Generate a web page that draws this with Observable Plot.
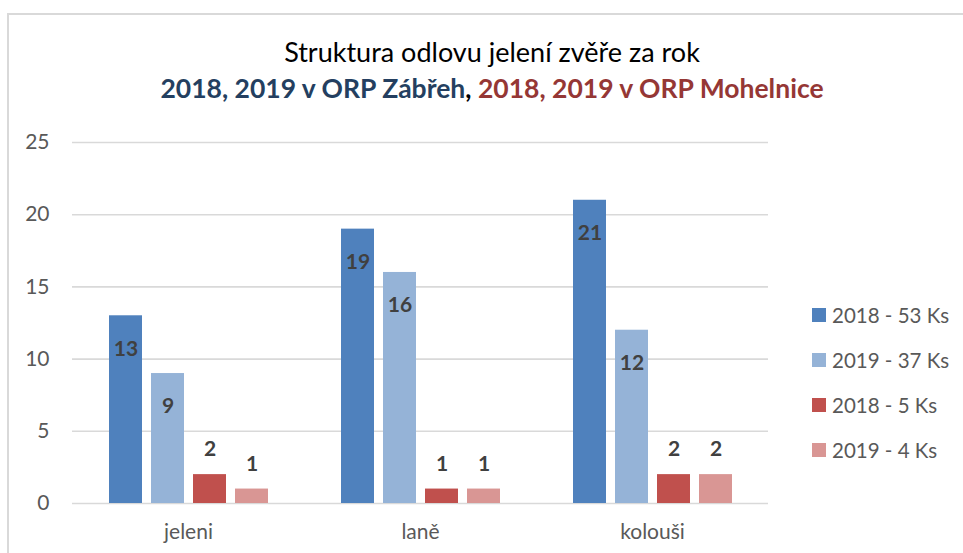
<!DOCTYPE html>
<html>
<head>
<meta charset="utf-8">
<script src="https://cdn.jsdelivr.net/npm/d3@7"></script>
<script src="https://cdn.jsdelivr.net/npm/@observablehq/plot@0.6"></script>
<style>
  html, body { margin: 0; padding: 0; background: #fff; }
  #wrap { position: relative; width: 963px; height: 553px; overflow: hidden; font-family: Lato, "Open Sans", sans-serif; }
  #frame { position: absolute; left: 7px; top: 13px; width: 1100px; height: 700px; border-left: 2px solid #d9d9d9; border-top: 2px solid #d9d9d9; }
  #title { position: absolute; left: 0; top: 34px; width: 984px; text-align: center; }
  #t1 { font-size: 27px; color: #000; line-height: 36px; }
  #t2 { font-size: 26.5px; font-weight: bold; line-height: 36px; }
  #chart { position: absolute; left: 0; top: 100px; }
  #legend { position: absolute; left: 812px; top: 292px; }
  .li { display: flex; align-items: center; height: 45px; font-size: 20.5px; color: #595959; }
  .sw { width: 14px; height: 14px; margin-right: 6px; }
</style>
</head>
<body>
<div id="wrap">
  <div id="frame"></div>
  <div id="title">
    <div id="t1">Struktura odlovu jelení zvěře za rok</div>
    <div id="t2"><span style="color:#243F60">2018, 2019 v ORP Zábřeh</span><span style="color:#000">, </span><span style="color:#953735">2018, 2019 v ORP Mohelnice</span></div>
  </div>
  <div id="chart"></div>
  <div id="legend"></div>
</div>
<script>
const categories = ["jeleni", "laně", "kolouši"];
const series = ["2018 - 53 Ks", "2019 - 37 Ks", "2018 - 5 Ks", "2019 - 4 Ks"];
const values2018Zabreh = [13, 19, 21];
const values2019Zabreh = [9, 16, 12];
const values2018Mohelnice = [2, 1, 2];
const values2019Mohelnice = [1, 1, 2];
const colors = ["#4F81BD", "#95B3D7", "#C0504D", "#D99694"];
const yTicks = [0, 5, 10, 15, 20, 25];

const seriesValues = [values2018Zabreh, values2019Zabreh, values2018Mohelnice, values2019Mohelnice];
const data = [];
categories.forEach((c, i) => {
  series.forEach((s, j) => data.push({category: c, series: s, value: seriesValues[j][i]}));
});

const chart = Plot.plot({
  width: 963,
  height: 453,
  marginLeft: 72,
  marginRight: 195,
  marginTop: 42,
  marginBottom: 50,
  style: {fontFamily: "Lato, 'Open Sans', sans-serif", fontSize: "21px", color: "#595959", background: "transparent"},
  fx: {domain: categories, padding: 0, label: null, tickSize: 0, tickPadding: 21},
  x: {domain: series, paddingInner: 0.2143, paddingOuter: 0.869, axis: null},
  y: {domain: [0, 25], ticks: yTicks, tickSize: 0, tickPadding: 23, label: null},
  color: {domain: series, range: colors},
  marks: [
    Plot.ruleY(yTicks, {stroke: "#d9d9d9", strokeWidth: 1.6}),
    Plot.barY(data, {fx: "category", x: "series", y: "value", fill: "series"}),
    Plot.text(data.filter(d => d.value >= 5), {fx: "category", x: "series", y: "value", text: d => String(d.value), dy: 33, fill: "#404040", fontWeight: "bold", fontSize: 21}),
    Plot.text(data.filter(d => d.value < 5), {fx: "category", x: "series", y: "value", text: d => String(d.value), dy: -25, fill: "#404040", fontWeight: "bold", fontSize: 21})
  ]
});
document.getElementById("chart").appendChild(chart);

const legend = d3.select("#legend");
series.forEach((s, i) => {
  const row = legend.append("div").attr("class", "li");
  row.append("div").attr("class", "sw").style("background", colors[i]);
  row.append("span").text(s);
});
</script>
</body>
</html>
